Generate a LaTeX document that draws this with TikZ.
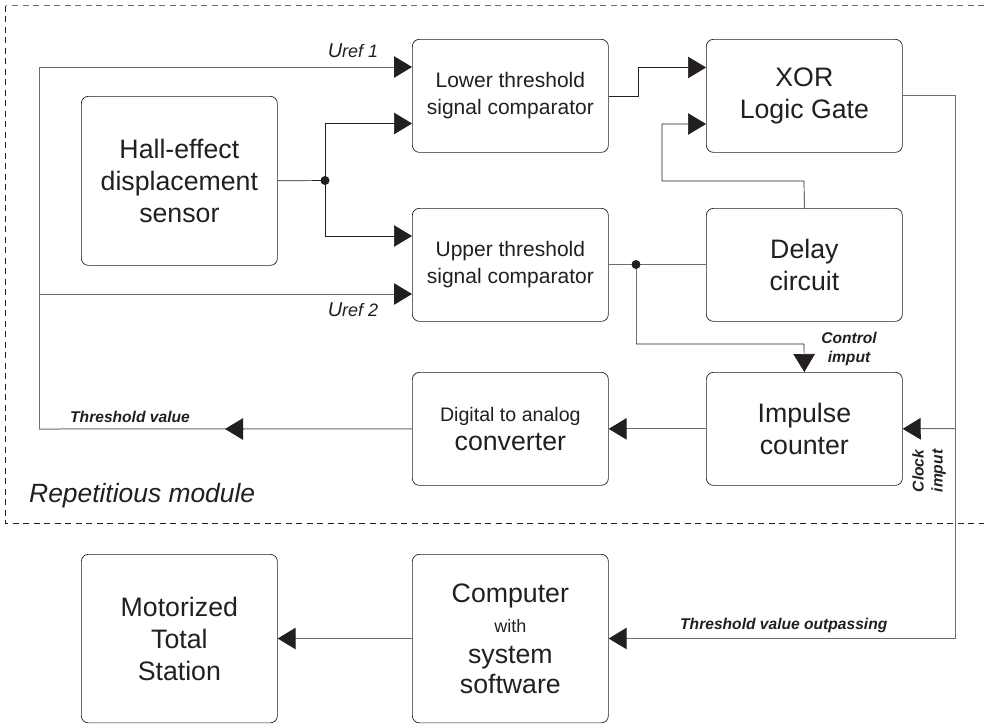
\documentclass[tikz,border=0pt]{standalone}
\usepackage{fontspec}
\setmainfont{Liberation Sans}
\usetikzlibrary{arrows.meta}
\definecolor{ink}{HTML}{231F20}
\definecolor{wire}{HTML}{6D6E70}
\tikzset{
  x=1pt,y=-1pt,
  blockbox/.style={draw=ink,line width=0.7pt,rounded corners=7pt,anchor=north west,inner sep=0pt,align=center,text=ink},
  wireline/.style={draw=ink,line width=0.7pt},
  greyline/.style={draw=wire,line width=1pt},
  arr/.style={-{Triangle[length=18pt,width=21.5pt,color=ink,fill=ink]}},
  jdot/.style={circle,fill=ink,inner sep=0pt,minimum size=9pt},
  lab/.style={font=\fontsize{15.6}{19}\selectfont\bfseries\itshape,text=ink,align=center,inner sep=0pt},
  ulab/.style={font=\fontsize{20}{22}\selectfont\itshape,text=ink,inner sep=0pt},
  big/.style={font=\fontsize{26.7}{32}\selectfont},
  mid/.style={font=\fontsize{21}{27}\selectfont},
  big30/.style={font=\fontsize{26.7}{30.5}\selectfont},
  dacfont/.style={font=\fontsize{19.6}{29}\selectfont},
}
\begin{document}
\begin{tikzpicture}
\useasboundingbox (0,0) rectangle (984,723);
\fill[white] (0,0) rectangle (984,723);
\draw[wire,line width=0.5pt,dash pattern=on 6pt off 4.5pt] (984,5.5) -- (5.5,5.5);
\draw[ink,line width=0.5pt,dash pattern=on 6pt off 4.5pt] (5.5,5.5) -- (5.5,523.5) -- (984,523.5);
\node[blockbox,minimum width=196pt,minimum height=169pt,big] (hall) at (81,96) {Hall-effect\\displacement\\sensor};
\node[blockbox,minimum width=196pt,minimum height=113pt,mid] (lower) at (412,39) {Lower threshold\\signal comparator};
\node[blockbox,minimum width=196pt,minimum height=113pt,mid] (upper) at (412,208) {Upper threshold\\signal comparator};
\node[blockbox,minimum width=196pt,minimum height=113pt,big] (xor) at (706,39) {XOR\\Logic Gate};
\node[blockbox,minimum width=196pt,minimum height=113pt,big] (delay) at (706,208) {Delay\\circuit};
\node[blockbox,minimum width=196pt,minimum height=113pt,big] (counter) at (706,372) {Impulse\\counter};
\node[blockbox,minimum width=196pt,minimum height=113pt,dacfont] (dac) at (412,372) {Digital to analog\\{\fontsize{26.7}{30}\selectfont converter}};
\node[blockbox,minimum width=196pt,minimum height=168.5pt,big30] (pc) at (412,554) {Computer\\{\fontsize{18}{24}\selectfont with}\\system\\software};
\node[blockbox,minimum width=196pt,minimum height=168.5pt,big] (total) at (81,554) {Motorized\\Total\\Station};
\coordinate (tl) at (39,67);
\coordinate (ml) at (39,294);
\coordinate (bl) at (39,429);
\coordinate (arrmid) at (244,429);
\coordinate (jh) at (325,180.5);
\coordinate (ju) at (636,264.5);
\coordinate (cl) at (955,428.5);
\coordinate (br) at (955,638.5);
\draw[greyline,arr] (tl) -- (lower.west |- tl);
\draw[greyline] (bl) -- (tl);
\draw[greyline,arr] (ml) -- (upper.west |- ml);
\draw[greyline] (dac.west) -- (bl);
\draw[greyline,arr] (arrmid) -- (225,429);
\draw[wireline] (hall.east) -- (jh);
\draw[wireline,arr] (jh) |- (lower.west |- 0,123.5);
\draw[wireline,arr] (jh) |- (upper.west |- 0,236);
\node[jdot] at (jh) {};
\draw[wireline,arr] (lower.east) -| (638,67.5) -- (xor.west |- 0,67.5);
\draw[wireline,arr] (delay.north) -- (804,181) -| (662,124) -- (xor.west |- 0,124);
\draw[greyline] (upper.east) -- (delay.west);
\draw[greyline] (ju) -- (636,344);
\draw[wireline,arr] (636,344) -- (804,344) -- (counter.north);
\node[jdot] at (ju) {};
\draw[greyline,arr] (counter.west) -- (dac.east);
\draw[greyline] (xor.east) -| (br);
\draw[greyline,arr] (cl) -- (counter.east);
\draw[greyline,arr] (br) -- (pc.east |- br);
\draw[greyline,arr] (pc.west |- br) -- (total.east |- br);
\node[ulab] at (353,51) {U\fontsize{18}{20}\selectfont ref 1};
\node[ulab] at (353,310) {U\fontsize{18}{20}\selectfont ref 2};
\node[lab,anchor=west] at (70,417) {Threshold value};
\node[lab] at (849,349) {Control\\imput};
\node[lab,rotate=90] at (929,471) {Clock\\imput};
\node[lab,anchor=west] at (680,625.5) {Threshold value outpassing};
\node[font=\fontsize{26.4}{30}\selectfont\itshape,text=ink,anchor=west,inner sep=0pt] at (29,496) {Repetitious module};
\end{tikzpicture}
\end{document}
